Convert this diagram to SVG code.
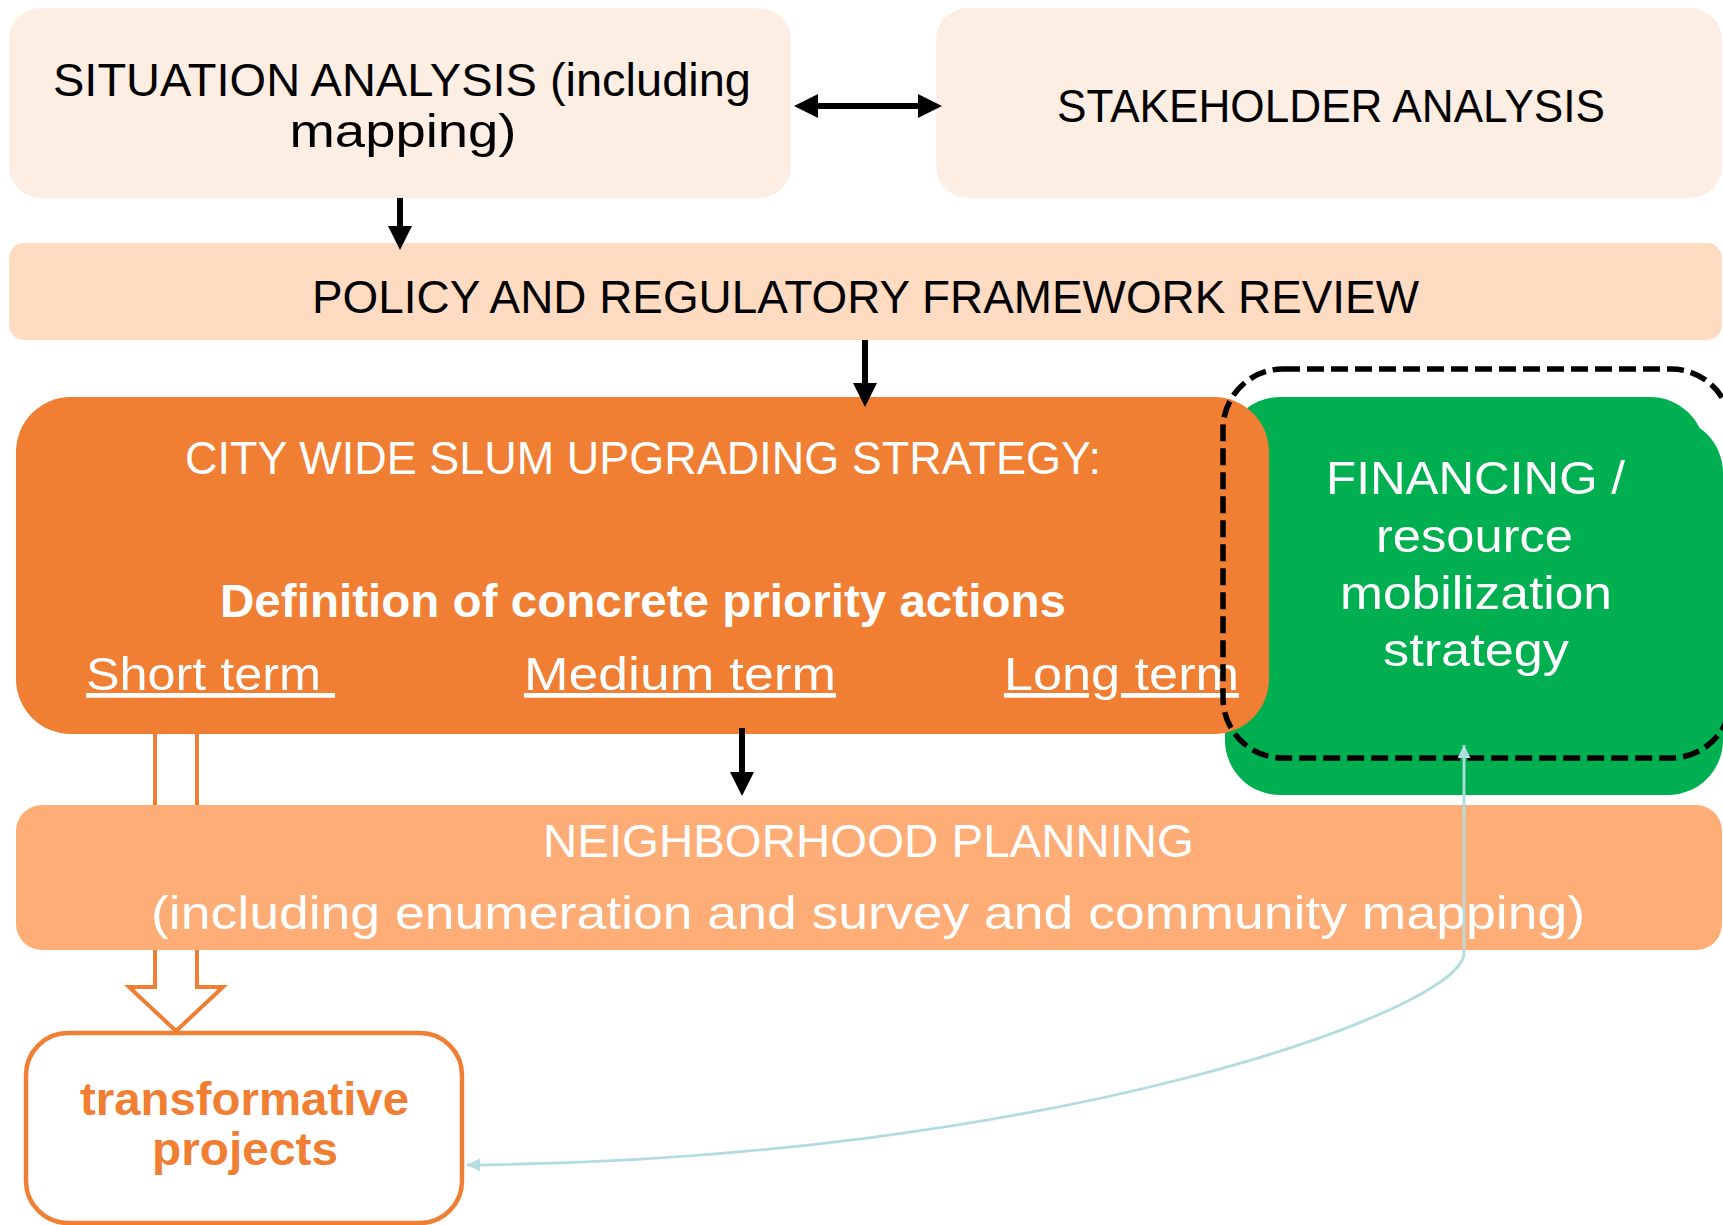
<svg xmlns="http://www.w3.org/2000/svg" width="1723" height="1225" viewBox="0 0 1723 1225">
<defs>
<style>
.t{font-family:"Liberation Sans",Arial,sans-serif;font-size:47px;text-anchor:middle}
.blk{fill:#000}
.wht{fill:#fff}
.b{font-weight:bold}
.u{text-decoration:underline;text-anchor:start}
.arr{stroke:#000;stroke-width:6;fill:none}
</style>
<marker id="ah" markerUnits="userSpaceOnUse" markerWidth="26" markerHeight="26" refX="2" refY="12" orient="auto-start-reverse">
<path d="M0,0 L24,12 L0,24 z" fill="#000"/>
</marker>
<marker id="bh" markerUnits="userSpaceOnUse" markerWidth="16" markerHeight="16" refX="13" refY="6.5" orient="auto-start-reverse">
<path d="M0,0 L13,6.5 L0,13 z" fill="#B2DCE0"/>
</marker>
</defs>
<rect width="1723" height="1225" fill="#fff"/>

<g id="situation">
<rect x="9" y="8" width="782" height="190" rx="32" fill="#FDEEE3"/>
<text class="t blk" x="402" y="96" textLength="698" lengthAdjust="spacingAndGlyphs">SITUATION ANALYSIS (including</text>
<text class="t blk" x="403" y="147" textLength="227" lengthAdjust="spacingAndGlyphs">mapping)</text>
</g>

<g id="stakeholder">
<rect x="936" y="8" width="786" height="190" rx="32" fill="#FDEEE3"/>
<text class="t blk" x="1331" y="122" textLength="548" lengthAdjust="spacingAndGlyphs">STAKEHOLDER ANALYSIS</text>
</g>

<g id="policy">
<rect x="9" y="243" width="1713" height="97" rx="15" fill="#FFDBC2"/>
<text class="t blk" x="865.5" y="313" textLength="1107" lengthAdjust="spacingAndGlyphs">POLICY AND REGULATORY FRAMEWORK REVIEW</text>
</g>

<g id="financing">
<rect x="1225" y="397" width="480" height="398" rx="55" fill="#00AF50"/>
<rect x="1245" y="418" width="478" height="377" rx="55" fill="#00AF50"/>
<text class="t wht" x="1475.5" y="494" textLength="299" lengthAdjust="spacingAndGlyphs">FINANCING /</text>
<text class="t wht" x="1474.5" y="552" textLength="197" lengthAdjust="spacingAndGlyphs">resource</text>
<text class="t wht" x="1476" y="609" textLength="272" lengthAdjust="spacingAndGlyphs">mobilization</text>
<text class="t wht" x="1476" y="666" textLength="186" lengthAdjust="spacingAndGlyphs">strategy</text>
</g>

<g id="citywide">
<rect x="16" y="397" width="1253" height="337" rx="55" fill="#F07E33"/>
<text class="t wht" x="643" y="474" textLength="916" lengthAdjust="spacingAndGlyphs">CITY WIDE SLUM UPGRADING STRATEGY:</text>
<text class="t wht b" x="643" y="617" font-size="46" textLength="846" lengthAdjust="spacingAndGlyphs">Definition of concrete priority actions</text>
<text class="t wht u" x="86" y="690" xml:space="preserve" textLength="249" lengthAdjust="spacingAndGlyphs">Short term </text>
<text class="t wht u" x="524" y="690" textLength="312" lengthAdjust="spacingAndGlyphs">Medium term</text>
<text class="t wht u" x="1004" y="690" textLength="235" lengthAdjust="spacingAndGlyphs">Long term</text>
</g>

<g id="financing-boundary">
<rect x="1223" y="369" width="508" height="389" rx="60" fill="none" stroke="#000" stroke-width="5.5" stroke-dasharray="17 7"/>
</g>

<g id="neighborhood">
<rect x="16" y="805" width="1706" height="145" rx="26" fill="#FFAD77"/>
<text class="t wht" x="868.5" y="857" textLength="651" lengthAdjust="spacingAndGlyphs">NEIGHBORHOOD PLANNING</text>
<text class="t wht" x="868" y="929" textLength="1434" lengthAdjust="spacingAndGlyphs">(including enumeration and survey and community mapping)</text>
</g>

<g id="transformative">
<rect x="26" y="1033" width="436" height="190" rx="42" fill="#fff" stroke="#F07E33" stroke-width="4.5"/>
<text class="t b" x="244.5" y="1115" font-size="46" fill="#F07E33" textLength="329" lengthAdjust="spacingAndGlyphs">transformative</text>
<text class="t b" x="245" y="1165" font-size="46" fill="#F07E33" textLength="186" lengthAdjust="spacingAndGlyphs">projects</text>
</g>

<g id="connectors">
<path class="arr" d="M816,106 H920" marker-start="url(#ah)" marker-end="url(#ah)"/>
<path class="arr" d="M400,198 V228" marker-end="url(#ah)"/>
<path class="arr" d="M865,340 V385" marker-end="url(#ah)"/>
<path class="arr" d="M742,728 V774" marker-end="url(#ah)"/>
<g fill="#fff" stroke="#F07E33" stroke-width="4">
<path d="M155,734 V805 M197,734 V805" fill="none"/>
<path d="M155,950 V987 H129 L176,1031 L223,987 H197 V950"/>
</g>
<path d="M1464,745 V953 C1464,1010 1050,1160 467,1165" fill="none" stroke="#B2DCE0" stroke-width="2.8" marker-start="url(#bh)" marker-end="url(#bh)"/>
</g>
</svg>
